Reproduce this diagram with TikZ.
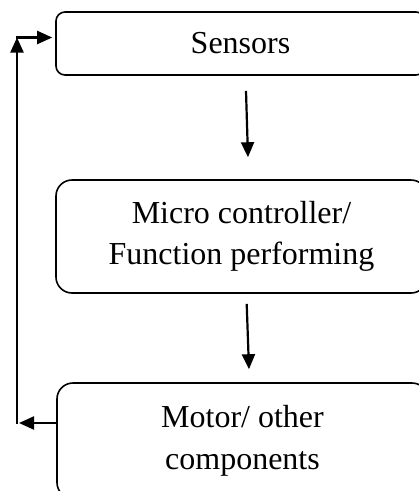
\documentclass[tikz,border=0pt]{standalone}
\usepackage{fontspec}
\setmainfont{Liberation Serif}
\usetikzlibrary{arrows.meta}
\begin{document}
\begin{tikzpicture}[x=1pt,y=-1pt,
  box/.style={draw, line width=1.6pt, inner sep=0pt, align=center,
    font=\fontsize{32}{41.5}\selectfont},
  arr/.style={line width=2.2pt, -{Triangle[length=15pt,width=13pt]}}]
\path[clip, use as bounding box] (0,0) rectangle (419,491);
\node[box, rounded corners=9pt, minimum width=369pt, minimum height=63pt] (sens) at (240.5,43.5) {Sensors};
\node[box, rounded corners=16pt, minimum width=371pt, minimum height=113pt] (micro) at (241.5,236.5) {Micro controller/\\Function performing};
\node[box, rounded corners=16pt, minimum width=371pt, minimum height=115.5pt] (motor) at (242.5,440.75) {Motor/ other\\components};
% forward arrows
\draw[arr] ([xshift=5.5pt,yshift=-15pt]sens.south) -- ([xshift=6.5pt,yshift=22pt]micro.north);
\draw[arr] ([xshift=5.2pt,yshift=-10pt]micro.south) -- ([xshift=6.5pt,yshift=13pt]motor.north);
% feedback loop
\coordinate (fbl) at (19,423);
\coordinate (fbb) at (17,424);
\coordinate (fbt) at (17,37.5);
\coordinate (fbc) at (16,37.5);
\draw[arr] ([yshift=17.75pt]motor.west) -- (fbl);
\draw[arr] (fbb) -- (fbt);
\draw[arr] (fbc) -- ([xshift=-3pt,yshift=6pt]sens.west);
\end{tikzpicture}
\end{document}
